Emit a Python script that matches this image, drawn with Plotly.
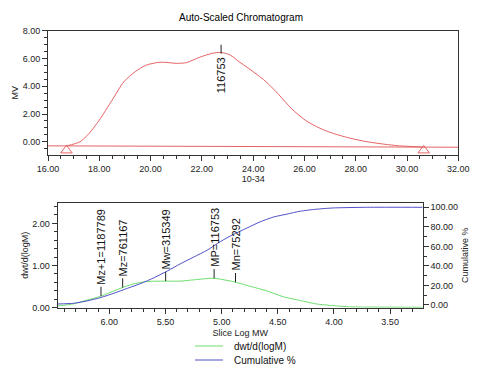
import numpy as np
import plotly.graph_objects as go

# ---------------- data ----------------
# Chromatogram (top)
ret_time = [16.73, 17.25, 17.6, 18.0, 18.5, 18.96, 19.4, 19.8, 20.3, 20.6, 21.0, 21.4,
            21.9, 22.4, 22.75, 23.1, 23.45, 24.0, 24.5, 25.0, 25.5, 26.06, 26.6, 27.1,
            27.8, 28.4, 29.1, 29.7, 30.65]
mv = [-0.29, 0.0, 0.6, 1.56, 3.0, 4.33, 5.05, 5.5, 5.72, 5.72, 5.65, 5.7,
      6.08, 6.37, 6.44, 6.25, 5.77, 5.05, 4.33, 3.4, 2.38, 1.52, 0.98, 0.62,
      0.25, 0.02, -0.17, -0.29, -0.38]
baseline_x = [16.0, 32.0]
baseline_y = [-0.29, -0.39]
limit_x = [16.72, 30.65]
limit_y = [-0.62, -0.62]
peak_time = 22.75
peak_mv = 6.44
peak_label = "116753"

# Distribution (bottom)
slice_logmw = [6.46, 6.32, 6.2, 6.09, 5.995, 5.9, 5.79, 5.67, 5.51, 5.37, 5.25, 5.08,
               5.02, 4.9, 4.75, 4.6, 4.45, 4.3, 4.16, 4.01, 3.86, 3.71, 3.21]
dwt = [0.04, 0.09, 0.18, 0.26, 0.36, 0.46, 0.56, 0.62, 0.63, 0.63, 0.66, 0.70,
       0.68, 0.62, 0.51, 0.40, 0.26, 0.17, 0.09, 0.05, 0.02, 0.015, 0.01]
cum_logmw = [6.46, 6.32, 6.2, 6.08, 5.96, 5.84, 5.72, 5.6, 5.48, 5.37, 5.25, 5.13,
             5.01, 4.9, 4.78, 4.66, 4.54, 4.42, 4.3, 4.16, 4.01, 3.71, 3.21]
cum_pct = [1.0, 1.7, 4.1, 7.5, 12, 17, 22, 28, 35, 42, 49, 56,
           65, 72, 78.5, 85, 90, 93, 96, 98, 99.3, 100, 100]
mw_names = ["Mz+1", "Mz", "Mw", "MP", "Mn"]
mw_values = [1187789, 761167, 315349, 116753, 75292]
legend_names = ["dwt/d(logM)", "Cumulative %"]

RED = "#E46464"
GREEN = "#6CDC6C"
BLUE = "#5050C8"
FONT = "Liberation Sans, Arial"

# the page body has an 8px margin, so the figure is sized to fit inside it
OFF = 8
W, H = 492 - OFF, 373 - OFF


def px(x):
    return (x - OFF) / W


def py(y):
    return 1 - (y - OFF) / H


fig = go.Figure()

# top chromatogram
fig.add_trace(go.Scatter(x=baseline_x, y=baseline_y, mode="lines",
                         line=dict(color=RED, width=1), showlegend=False,
                         xaxis="x", yaxis="y", hoverinfo="skip"))
fig.add_trace(go.Scatter(x=ret_time, y=mv, mode="lines", line_shape="spline",
                         line=dict(color=RED, width=1, smoothing=0.7), showlegend=False,
                         xaxis="x", yaxis="y"))
fig.add_trace(go.Scatter(x=limit_x, y=limit_y, mode="markers",
                         marker=dict(symbol="triangle-up-open", size=10,
                                     color=RED, line=dict(width=1, color=RED)),
                         showlegend=False, xaxis="x", yaxis="y"))

# bottom distribution
fig.add_trace(go.Scatter(x=slice_logmw, y=dwt, mode="lines", line_shape="spline",
                         line=dict(color=GREEN, width=1, smoothing=0.6), name=legend_names[0],
                         showlegend=False, xaxis="x2", yaxis="y2"))
fig.add_trace(go.Scatter(x=cum_logmw, y=cum_pct, mode="lines", line_shape="spline",
                         line=dict(color=BLUE, width=1, smoothing=0.6), name=legend_names[1],
                         showlegend=False, xaxis="x2", yaxis="y3"))

shapes = []
annotations = []

# peak label on the chromatogram
shapes.append(dict(type="line", xref="x", yref="y", x0=peak_time, x1=peak_time,
                   y0=peak_mv - 0.1, y1=peak_mv + 0.55, line=dict(color="#222", width=1)))
annotations.append(dict(x=peak_time, y=peak_mv - 0.2, xref="x", yref="y",
                        text=peak_label, textangle=-90, showarrow=False,
                        xanchor="center", yanchor="top",
                        font=dict(family=FONT, size=11, color="#111")))

# molecular weight markers
xs_sorted = np.array(slice_logmw[::-1])
ys_sorted = np.array(dwt[::-1])
for name, val in zip(mw_names, mw_values):
    lx = float(np.log10(val))
    ly = float(np.interp(lx, xs_sorted, ys_sorted))
    top = ly + 0.22
    shapes.append(dict(type="line", xref="x2", yref="y2", x0=lx, x1=lx, y0=ly, y1=top,
                       line=dict(color="#222", width=1)))
    annotations.append(dict(x=lx, y=top, xref="x2", yref="y2",
                            text=f"{name}={val}", textangle=-90, showarrow=False,
                            xanchor="center", yanchor="bottom",
                            font=dict(family=FONT, size=11, color="#111")))

# manual legend
for i, (nm, col) in enumerate(zip(legend_names, [GREEN, BLUE])):
    yy = py(346 + 14 * i)
    shapes.append(dict(type="line", xref="paper", yref="paper",
                       x0=px(195), x1=px(223), y0=yy, y1=yy, line=dict(color=col, width=1)))
    annotations.append(dict(x=px(232), y=yy, xref="paper", yref="paper", text=nm,
                            showarrow=False, xanchor="left", yanchor="middle",
                            font=dict(family=FONT, size=10, color="#111")))

tf = dict(family=FONT, size=9, color="#222")
axis_common = dict(showline=True, linecolor="#333", linewidth=1, mirror=True,
                   ticks="outside", ticklen=5, tickcolor="#333", showgrid=False,
                   zeroline=False, tickfont=tf, automargin=False)
minor_style = dict(ticklen=3, ticks="outside", tickcolor="#333")

fig.update_layout(
    width=W, height=H,
    margin=dict(l=0, r=0, t=0, b=0),
    paper_bgcolor="white", plot_bgcolor="white",
    title=dict(text="Auto-Scaled Chromatogram", x=px(241), xanchor="center",
               y=py(17.5), yanchor="middle",
               font=dict(family=FONT, size=10, color="#000")),
    xaxis=dict(domain=[px(48), px(458.3)], anchor="y", range=[16, 32],
               tickmode="linear", tick0=16, dtick=2, tickformat=".2f",
               minor=dict(dtick=0.5, **minor_style),
               title=dict(text="10-34", standoff=2, font=tf),
               **axis_common),
    yaxis=dict(domain=[py(155), py(30.7)], anchor="x", range=[-0.95, 8],
               tickmode="linear", tick0=0, dtick=2, tickformat=".2f",
               minor=dict(dtick=0.5, **minor_style),
               title=dict(text="MV", standoff=2, font=tf),
               **axis_common),
    xaxis2=dict(domain=[px(57.7), px(422.7)], anchor="y2", range=[6.46, 3.21],
                tickmode="linear", tick0=3.5, dtick=0.5, tickformat=".2f",
                minor=dict(dtick=0.1, **minor_style),
                title=dict(text="Slice Log MW", standoff=4, font=tf),
                **axis_common),
    yaxis2=dict(domain=[py(307.7), py(202.7)], anchor="x2", range=[0, 2.49],
                tickmode="linear", tick0=0, dtick=1, tickformat=".2f",
                minor=dict(dtick=0.2, **minor_style),
                title=dict(text="dwt/d(logM)", standoff=2, font=tf),
                **axis_common),
    yaxis3=dict(overlaying="y2", side="right", anchor="x2", range=[-2.8, 104.7],
                tickmode="linear", tick0=0, dtick=20, tickformat=".2f",
                showline=True, linecolor="#333", linewidth=1,
                ticks="outside", ticklen=5, tickcolor="#333", showgrid=False,
                zeroline=False, tickfont=tf, automargin=False,
                minor=dict(dtick=10, **minor_style),
                title=dict(text="Cumulative %", standoff=4, font=tf)),
    shapes=shapes,
    annotations=annotations,
)

fig.write_html("out.html")
